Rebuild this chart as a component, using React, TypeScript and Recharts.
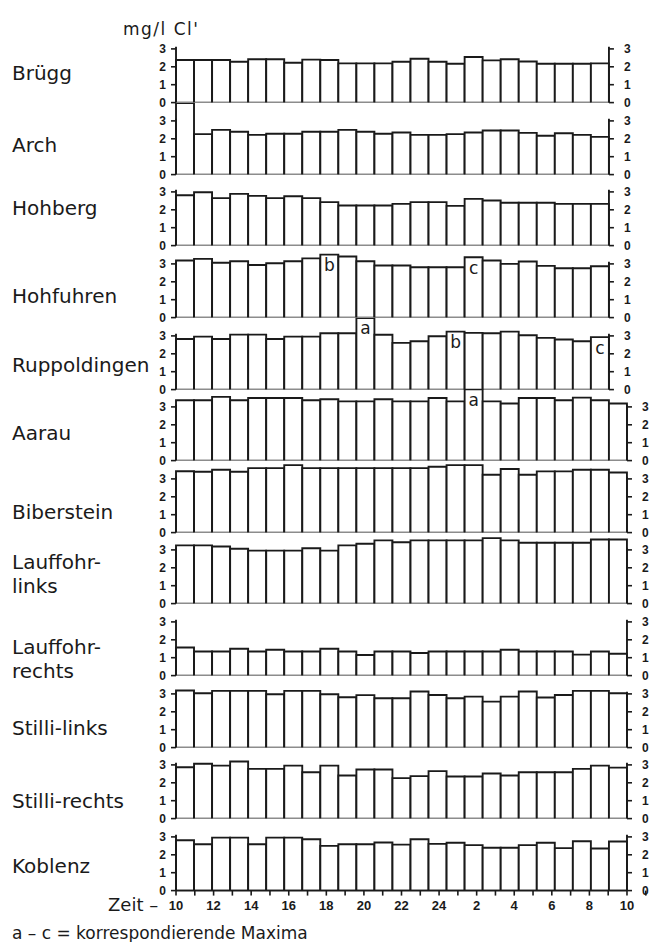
import React from 'react';
import { BarChart, Bar, XAxis, YAxis, ReferenceLine, LabelList } from 'recharts';

// bar start hours (one bar per hour)
const hours = ['10', '11', '12', '13', '14', '15', '16', '17', '18', '19', '20', '21', '22', '23', '24', '1', '2', '3', '4', '5', '6', '7', '8', '9', '10'];
const timeTickLabels = ['10', '12', '14', '16', '18', '20', '22', '24', '2', '4', '6', '8', '10'];
const valueTicks = [0, 1, 2, 3];

const bruegg = [2.38, 2.38, 2.38, 2.28, 2.42, 2.42, 2.23, 2.4, 2.38, 2.19, 2.19, 2.19, 2.28, 2.45, 2.28, 2.17, 2.55, 2.36, 2.42, 2.3, 2.17, 2.17, 2.17, 2.19];
const arch = [4.0, 2.26, 2.5, 2.39, 2.22, 2.28, 2.28, 2.39, 2.39, 2.5, 2.39, 2.28, 2.35, 2.22, 2.22, 2.26, 2.35, 2.46, 2.46, 2.33, 2.17, 2.31, 2.22, 2.11];
const hohberg = [2.81, 2.98, 2.65, 2.89, 2.78, 2.65, 2.76, 2.65, 2.43, 2.24, 2.24, 2.24, 2.33, 2.43, 2.43, 2.22, 2.61, 2.52, 2.39, 2.39, 2.39, 2.33, 2.33, 2.33];
const hohfuhren = [3.19, 3.28, 3.06, 3.15, 2.94, 3.04, 3.15, 3.31, 3.52, 3.41, 3.15, 2.91, 2.91, 2.81, 2.81, 2.81, 3.37, 3.19, 3.0, 3.13, 2.89, 2.76, 2.76, 2.87];
const ruppoldingen = [2.83, 2.96, 2.83, 3.07, 3.07, 2.83, 2.96, 2.96, 3.15, 3.15, 4.0, 3.06, 2.61, 2.7, 2.98, 3.24, 3.17, 3.15, 3.24, 3.04, 2.89, 2.8, 2.7, 2.93];
const aarau = [3.37, 3.37, 3.56, 3.37, 3.5, 3.5, 3.5, 3.37, 3.43, 3.31, 3.31, 3.43, 3.31, 3.31, 3.5, 3.31, 3.98, 3.31, 3.19, 3.5, 3.5, 3.37, 3.52, 3.37, 3.19];
const biberstein = [3.43, 3.4, 3.51, 3.4, 3.6, 3.6, 3.77, 3.6, 3.6, 3.6, 3.6, 3.6, 3.6, 3.6, 3.68, 3.77, 3.77, 3.23, 3.55, 3.23, 3.42, 3.42, 3.51, 3.51, 3.36];
const lauffohrLinks = [3.25, 3.25, 3.19, 3.06, 2.96, 2.96, 2.96, 3.09, 2.96, 3.25, 3.34, 3.53, 3.43, 3.53, 3.53, 3.53, 3.53, 3.66, 3.53, 3.4, 3.4, 3.4, 3.4, 3.58, 3.58];
const lauffohrRechts = [1.57, 1.35, 1.35, 1.5, 1.35, 1.44, 1.35, 1.35, 1.5, 1.35, 1.15, 1.35, 1.35, 1.26, 1.35, 1.35, 1.35, 1.35, 1.44, 1.35, 1.35, 1.35, 1.17, 1.35, 1.22];
const stilliLinks = [3.19, 3.04, 3.17, 3.17, 3.17, 2.98, 3.17, 3.17, 2.98, 2.81, 2.93, 2.76, 2.76, 3.13, 2.94, 2.76, 2.85, 2.57, 2.85, 3.13, 2.8, 2.94, 3.17, 3.17, 3.04];
const stilliRechts = [2.87, 3.06, 2.96, 3.19, 2.78, 2.78, 2.96, 2.59, 2.96, 2.41, 2.74, 2.74, 2.26, 2.37, 2.65, 2.35, 2.35, 2.52, 2.41, 2.59, 2.59, 2.59, 2.78, 2.96, 2.85];
const koblenz = [2.81, 2.59, 2.96, 2.96, 2.59, 2.96, 2.96, 2.87, 2.5, 2.59, 2.59, 2.69, 2.57, 2.87, 2.61, 2.67, 2.54, 2.39, 2.39, 2.54, 2.67, 2.37, 2.76, 2.35, 2.74];

// correspondent maxima (bar index -> letter)
const hohfuhrenMarks: Record<number, string> = { 8: 'b', 16: 'c' };
const ruppoldingenMarks: Record<number, string> = { 10: 'a', 15: 'b', 23: 'c' };
const aarauMarks: Record<number, string> = { 16: 'a' };

type Station = { name: string[]; values: number[]; marks: Record<number, string>; labelY: number };

const stations: Station[] = [
  { name: ['Brügg'], values: bruegg, marks: {}, labelY: 80 },
  { name: ['Arch'], values: arch, marks: {}, labelY: 152 },
  { name: ['Hohberg'], values: hohberg, marks: {}, labelY: 215 },
  { name: ['Hohfuhren'], values: hohfuhren, marks: hohfuhrenMarks, labelY: 303 },
  { name: ['Ruppoldingen'], values: ruppoldingen, marks: ruppoldingenMarks, labelY: 372 },
  { name: ['Aarau'], values: aarau, marks: aarauMarks, labelY: 440 },
  { name: ['Biberstein'], values: biberstein, marks: {}, labelY: 519 },
  { name: ['Lauffohr-', 'links'], values: lauffohrLinks, marks: {}, labelY: 569 },
  { name: ['Lauffohr-', 'rechts'], values: lauffohrRechts, marks: {}, labelY: 654 },
  { name: ['Stilli-links'], values: stilliLinks, marks: {}, labelY: 735 },
  { name: ['Stilli-rechts'], values: stilliRechts, marks: {}, labelY: 808 },
  { name: ['Koblenz'], values: koblenz, marks: {}, labelY: 873 },
];

const W = 652;
const PLOT_LEFT = 176;
const BAND = 18.04;
const BASE0 = 102.7;
const STEP = 71.6;
const RIGHT_W = 25;
const INK = '#1a1a1a';
const SW = 1.9;
const NUM_FONT = 'Liberation Sans, Arial, sans-serif';
const TXT_FONT = 'DejaVu Sans, sans-serif';

const MarkLabel = (props: any) => {
  const { x, y, width, value } = props;
  if (!value) return null;
  return (
    <text x={Number(x) + Number(width) / 2} y={Number(y) + 16.5} textAnchor="middle" fontSize={17} fontFamily={TXT_FONT} fill={INK}>
      {value}
    </text>
  );
};

function Panel({ st, idx }: { st: Station; idx: number }) {
  const n = st.values.length;
  const data = st.values.map((v, k) => ({ slot: k, hour: hours[k], v, mark: st.marks[k] }));
  const isLast = idx === stations.length - 1;
  const base = BASE0 + idx * STEP;
  const mt = 8;
  const mb = 8;
  const xh = isLast ? 30 : 0;
  const height = STEP + mt + mb + xh;
  const mr = W - PLOT_LEFT - n * BAND - RIGHT_W;
  const timeTicks = Array.from({ length: n + 1 }, (_, k) => k);
  const tickStyle = { fontSize: 12, fontWeight: 700, fontFamily: NUM_FONT, fill: INK };
  return (
    <div style={{ position: 'absolute', left: 0, top: base - STEP - mt }}>
      <BarChart width={W} height={height} data={data} margin={{ top: mt, right: mr, bottom: mb, left: 0 }} barCategoryGap={0} barGap={0}>
        <XAxis dataKey="slot" type="category" hide height={0} />
        <XAxis
          xAxisId="t"
          type="number"
          domain={[0, n]}
          allowDataOverflow
          ticks={timeTicks}
          interval={0}
          tickFormatter={(k: number) => (k % 2 === 0 && k / 2 < timeTickLabels.length ? timeTickLabels[k / 2] : '')}
          height={xh}
          tick={isLast ? { fontSize: 13, fontWeight: 700, fontFamily: NUM_FONT, fill: INK } : false}
          tickLine={isLast ? { stroke: INK, strokeWidth: 1.6 } : false}
          tickSize={5}
          tickMargin={5}
          axisLine={{ stroke: INK, strokeWidth: SW }}
        />
        <YAxis
          yAxisId="l"
          domain={[0, 4]}
          allowDataOverflow
          ticks={valueTicks}
          interval={0}
          width={PLOT_LEFT}
          axisLine={false}
          tickSize={5}
          tickMargin={5}
          tickLine={{ stroke: INK, strokeWidth: 1.6 }}
          tick={tickStyle}
        />
        <YAxis
          yAxisId="r"
          orientation="right"
          domain={[0, 4]}
          allowDataOverflow
          ticks={valueTicks}
          interval={0}
          width={RIGHT_W}
          axisLine={false}
          tickSize={5}
          tickMargin={10}
          tickLine={{ stroke: INK, strokeWidth: 1.6 }}
          tick={tickStyle}
        />
        <Bar yAxisId="l" dataKey="v" fill="#ffffff" stroke={INK} strokeWidth={SW} isAnimationActive={false}>
          <LabelList dataKey="mark" content={MarkLabel} />
        </Bar>
        <ReferenceLine
          yAxisId="l"
          position="start"
          segment={[{ x: 0, y: 0 }, { x: 0, y: 3.12 }]}
          stroke={INK}
          strokeWidth={SW}
          ifOverflow="visible"
        />
        <ReferenceLine
          yAxisId="l"
          position="end"
          segment={[{ x: n - 1, y: 0 }, { x: n - 1, y: 3.12 }]}
          stroke={INK}
          strokeWidth={SW}
          ifOverflow="visible"
        />
      </BarChart>
    </div>
  );
}

export default function App() {
  return (
    <div style={{ position: 'absolute', left: 0, top: 0, width: W, height: 942, background: '#ffffff', overflow: 'hidden' }}>
      {stations.map((st, i) => (
        <Panel key={st.name.join('')} st={st} idx={i} />
      ))}
      <svg width={W} height={942} style={{ position: 'absolute', left: 0, top: 0, pointerEvents: 'none' }}>
        <text x={123} y={35} fontSize={17} letterSpacing={1.5} fontFamily={TXT_FONT} fill={INK}>mg/l Cl'</text>
        {stations.map((st) =>
          st.name.map((line, j) => (
            <text key={st.name.join('') + j} x={12} y={st.labelY + j * 24} fontSize={20} fontFamily={TXT_FONT} fill={INK}>
              {line}
            </text>
          ))
        )}
        <text x={108} y={911} fontSize={18} fontFamily={TXT_FONT} fill={INK}>Zeit –</text>
        <text x={12} y={939} fontSize={17} fontFamily={TXT_FONT} fill={INK}>a – c = korrespondierende Maxima</text>
      </svg>
    </div>
  );
}
